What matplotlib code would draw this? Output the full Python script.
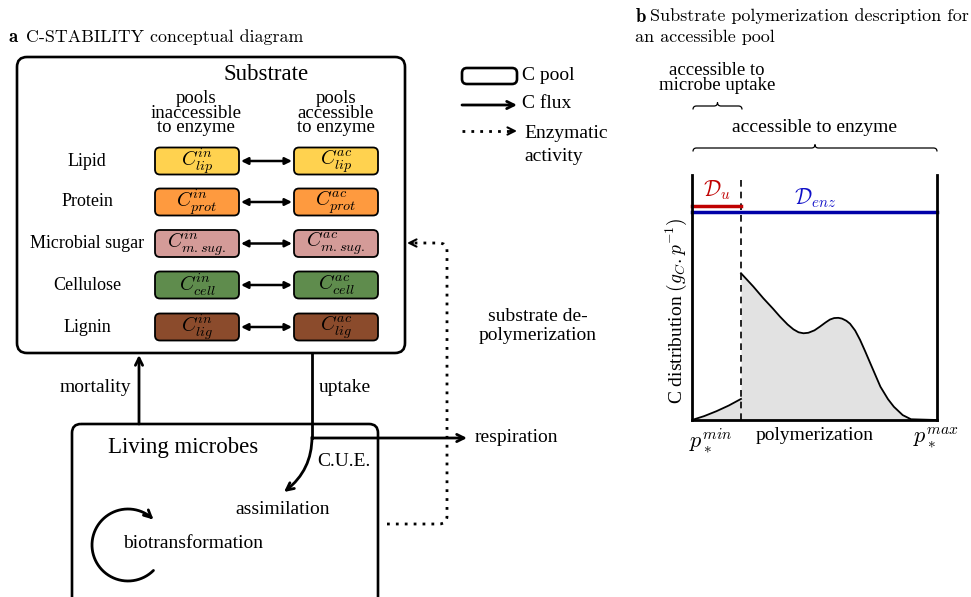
import numpy as np
import matplotlib
matplotlib.use("Agg")
import matplotlib.pyplot as plt
from matplotlib.patches import FancyBboxPatch, FancyArrowPatch, PathPatch
from matplotlib.path import Path

plt.rcParams['mathtext.fontset'] = 'cm'
SERIF = 'Liberation Serif'

# substrate pools (panel a)
pool_names = ["Lipid", "Protein", "Microbial sugar", "Cellulose", "Lignin"]
pool_keys = ["lip", "prot", "m.sug.", "cell", "lig"]
pool_colors = ["#FFD24F", "#FE9A3F", "#D49B98", "#5F8C4D", "#8B4B2C"]
pool_rows = [161, 202, 243.5, 285, 327]

legend_labels = ["C pool", "C flux", "Enzymatic\nactivity"]

# polymerization distribution (panel b)
poly_left = [0.0, 0.05, 0.1, 0.15, 0.2]
dist_left = [0.0, 0.016, 0.036, 0.059, 0.086]
poly_right = [0.2, 0.25, 0.291, 0.33, 0.359, 0.39, 0.414, 0.435, 0.455, 0.475,
              0.5, 0.522, 0.545, 0.563, 0.58, 0.597, 0.612, 0.63, 0.645, 0.666,
              0.686, 0.707, 0.728, 0.75, 0.769, 0.80, 0.824, 0.86, 0.894, 1.0]
dist_right = [0.599, 0.545, 0.497, 0.455, 0.422, 0.39, 0.37, 0.358, 0.354,
              0.356, 0.366, 0.381, 0.398, 0.41, 0.416, 0.417, 0.414, 0.405,
              0.393, 0.365, 0.327, 0.28, 0.231, 0.18, 0.136, 0.085, 0.054,
              0.02, 0.003, 0.0]
uptake_limit = 0.2
d_u_level = 0.873
d_enz_level = 0.849


def rbox(ax, x, y, w, h, r, fc="none", lw=1.9):
    p = FancyBboxPatch((x, y), w, h, boxstyle=f"round,pad=0,rounding_size={r}",
                       fc=fc, ec="black", lw=lw)
    ax.add_patch(p)


def arrow(ax, a, b, style="->", lw=2.0, ms=13, **kw):
    ax.add_patch(FancyArrowPatch(a, b, arrowstyle=style, mutation_scale=ms,
                                 lw=lw, color="black", shrinkA=0, shrinkB=0, **kw))


def brace(ax, x0, x1, y, r=3.5, lw=0.9):
    xm = (x0 + x1) / 2
    verts = [(x0, y + r), (x0, y), (x0 + r, y), (xm - r, y), (xm, y), (xm, y - r),
             (xm, y), (xm + r, y), (x1 - r, y), (x1, y), (x1, y + r)]
    codes = [Path.MOVETO, Path.CURVE3, Path.CURVE3, Path.LINETO, Path.CURVE3,
             Path.CURVE3, Path.CURVE3, Path.CURVE3, Path.LINETO, Path.CURVE3,
             Path.CURVE3]
    ax.add_patch(PathPatch(Path(verts, codes), fc="none", ec="black", lw=lw))


fig = plt.figure(figsize=(9.71, 5.97), dpi=100)
ax = fig.add_axes([0, 0, 1, 1])
ax.set_xlim(0, 971)
ax.set_ylim(597, 0)
ax.axis("off")

# ---- panel a ----
ax.text(8, 37, r"$\mathbf{a}$", fontsize=13.5, va="center", ha="left")
ax.text(26, 37, "C-STABILITY conceptual diagram", family="cmr10", fontsize=12.9,
        va="center", ha="left")

rbox(ax, 17, 57, 388, 296, 10)
ax.text(266, 75, "Substrate", family=SERIF, fontsize=16.5, ha="center", va="center")
ax.text(196, 113, "pools\ninaccessible\nto enzyme", family=SERIF, fontsize=13.5,
        ha="center", va="center", linespacing=0.82)
ax.text(336, 113, "pools\naccessible\nto enzyme", family=SERIF, fontsize=13.5,
        ha="center", va="center", linespacing=0.82)

for name, key, col, yc in zip(pool_names, pool_keys, pool_colors, pool_rows):
    ax.text(87, yc, name, family=SERIF, fontsize=13, ha="center", va="center")
    rbox(ax, 155, yc - 13.5, 84, 27, 5, fc=col, lw=1.3)
    rbox(ax, 294, yc - 13.5, 84, 27, 5, fc=col, lw=1.3)
    ax.text(197, yc, r"$C^{in}_{%s}$" % key, fontsize=14.5, ha="center", va="center")
    ax.text(336, yc, r"$C^{ac}_{%s}$" % key, fontsize=14.5, ha="center", va="center")
    arrow(ax, (241, yc), (292, yc), style="<|-|>", lw=1.8, ms=10)

# legend
rbox(ax, 462, 68, 55, 16, 5)
arrow(ax, (462, 105), (517, 105))
ax.plot([462, 510], [131, 131], color="black", lw=2, ls=(0, (1, 2.2)))
arrow(ax, (510, 131), (517, 131), lw=1.5)
ax.text(522, 76, legend_labels[0], family=SERIF, fontsize=14, va="center")
ax.text(522, 104, legend_labels[1], family=SERIF, fontsize=14, va="center")
ax.text(524, 145, legend_labels[2], family=SERIF, fontsize=14, va="center",
        linespacing=1.45)

# living microbes
rbox(ax, 72, 424, 306, 200, 9)
ax.text(183, 447, "Living microbes", family=SERIF, fontsize=16.5, ha="center", va="center")
ax.text(193, 544, "biotransformation", family=SERIF, fontsize=14, ha="center", va="center")
ax.text(283, 509, "assimilation", family=SERIF, fontsize=14, ha="center", va="center")
ax.text(344, 462, "C.U.E.", family=SERIF, fontsize=14, ha="center", va="center")

# mortality
arrow(ax, (139, 424), (139, 355))
ax.text(95, 387, "mortality", family=SERIF, fontsize=14, ha="center", va="center")

# uptake, respiration, assimilation
ax.plot([312, 312], [354, 438], color="black", lw=2)
arrow(ax, (312, 438), (467, 438))
ax.text(345, 387, "uptake", family=SERIF, fontsize=14, ha="center", va="center")
ax.text(475, 437, "respiration", family=SERIF, fontsize=14, ha="left", va="center")
p = Path([(312, 437), (312, 470), (284, 492)], [Path.MOVETO, Path.CURVE3, Path.CURVE3])
ax.add_patch(FancyArrowPatch(path=p, arrowstyle="->", mutation_scale=13, lw=2,
                             color="black"))

# biotransformation circular arrow
th = np.radians(np.linspace(-45, -315, 60))
cx, cy, rr = 128, 545, 36
arc = Path(np.column_stack([cx + rr * np.cos(th), cy - rr * np.sin(th)]))
ax.add_patch(FancyArrowPatch(path=arc, arrowstyle="->", mutation_scale=13, lw=2,
                             color="black"))

# enzymatic activity (dotted)
dv = [(387, 524), (439, 524), (447, 524), (447, 516), (447, 251), (447, 243),
      (439, 243), (412, 243)]
dc = [Path.MOVETO, Path.LINETO, Path.CURVE3, Path.CURVE3, Path.LINETO,
      Path.CURVE3, Path.CURVE3, Path.LINETO]
ax.add_patch(PathPatch(Path(dv, dc), fc="none", ec="black", lw=2, ls=(0, (1, 2.2))))
arrow(ax, (413, 243), (407, 243), lw=1.5)
ax.text(538, 326, "substrate de-\npolymerization", family=SERIF, fontsize=14,
        ha="center", va="center", linespacing=1.15)

# ---- panel b ----
ax.text(635, 16, r"$\mathbf{b}$", fontsize=13.5, va="center", ha="left")
ax.text(650, 16, "Substrate polymerization description for", family="cmr10",
        fontsize=13, va="center", ha="left")
ax.text(635, 37, "an accessible pool", family="cmr10", fontsize=13,
        va="center", ha="left")
ax.text(717, 78, "accessible to\nmicrobe uptake", family=SERIF, fontsize=13.5,
        ha="center", va="center", linespacing=0.82)
brace(ax, 693, 742, 106)
ax.text(815, 128, "accessible to enzyme", family=SERIF, fontsize=14,
        ha="center", va="center")
brace(ax, 693, 937, 148)
ax.text(676, 311, r"C distribution $(g_C.p^{-1})$", family=SERIF, fontsize=14,
        rotation=90, ha="center", va="center")
ax.text(815, 436, "polymerization", family=SERIF, fontsize=14, ha="center", va="center")
ax.text(711, 441, r"$p_*^{min}$", fontsize=16, ha="center", va="center")
ax.text(936, 438, r"$p_*^{max}$", fontsize=16, ha="center", va="center")
ax.text(717, 190, r"$\mathcal{D}_u$", fontsize=15.5, color="#C00000",
        ha="center", va="center")
ax.text(815, 198, r"$\mathcal{D}_{enz}$", fontsize=15.5, color="#1010C8",
        ha="center", va="center")

bx = fig.add_axes([692 / 971, 1 - 420 / 597, 245 / 971, 245 / 597])
bx.set_xlim(0, 1)
bx.set_ylim(0, 1)
bx.patch.set_alpha(0)
bx.set_xticks([])
bx.set_yticks([])
bx.spines["top"].set_visible(False)
for s in ["left", "right", "bottom"]:
    bx.spines[s].set_linewidth(2)
bx.fill_between(poly_left, dist_left, color="#E2E2E2", lw=0)
bx.fill_between(poly_right, dist_right, color="#E2E2E2", lw=0)
bx.plot(poly_left, dist_left, color="black", lw=1.3)
bx.plot(poly_right, dist_right, color="black", lw=1.3)
bx.plot([uptake_limit, uptake_limit], [0, 1], color="black", lw=1.2,
        ls=(0, (4, 3)), clip_on=False)
bx.plot([0, uptake_limit], [d_u_level, d_u_level], color="#C00000", lw=2.5,
        clip_on=False)
bx.plot([0, 1], [d_enz_level, d_enz_level], color="#0000A8", lw=2.5, clip_on=False)

fig.savefig("out.png", dpi=100)
